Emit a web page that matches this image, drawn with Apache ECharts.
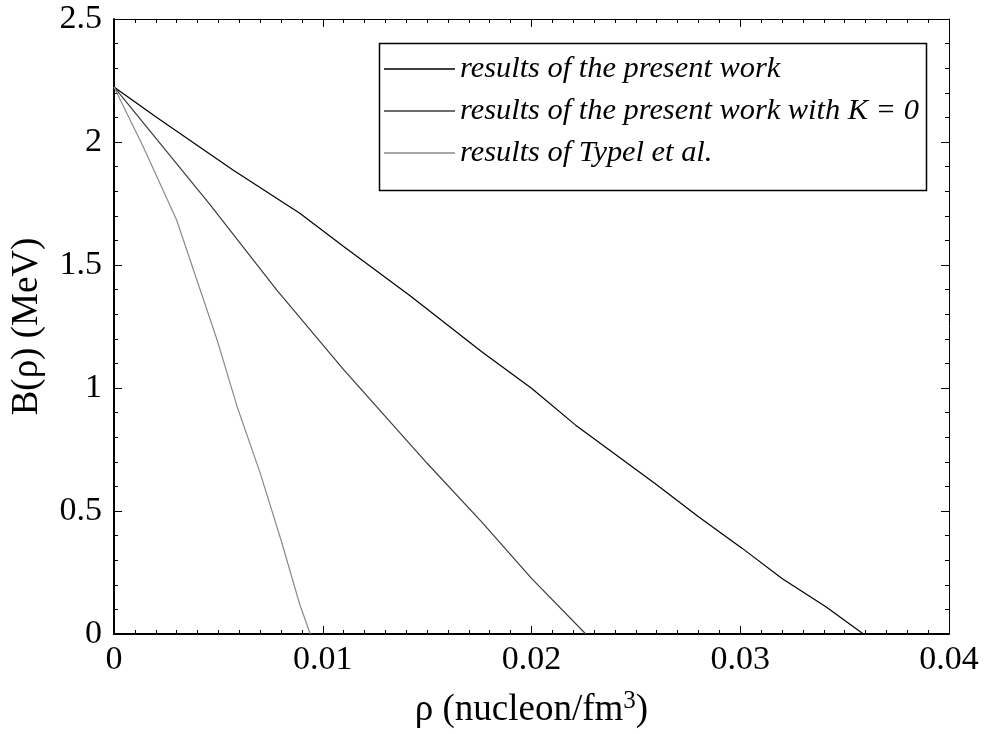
<!DOCTYPE html>
<html>
<head>
<meta charset="utf-8">
<script src="https://cdn.jsdelivr.net/npm/echarts@6/dist/echarts.min.js"></script>
<style>
  html, body { margin: 0; padding: 0; background: #fff; }
  #chart { width: 984px; height: 734px; }
</style>
</head>
<body>
<div id="chart"></div>
<script>
// Deuteron binding energy B(rho) versus nucleon density rho
const seriesNames = [
  'results of the present work',
  'results of the present work with K = 0',
  'results of Typel et al.'
];

// [rho (nucleon/fm^3), B (MeV)]
const presentWork = [
  [0, 2.224], [0.002, 2.103], [0.0057, 1.886], [0.0089, 1.71], [0.011, 1.575],
  [0.0142, 1.374], [0.0176, 1.148], [0.02, 0.999], [0.0221, 0.85], [0.0259, 0.613],
  [0.028, 0.477], [0.0301, 0.348], [0.032, 0.226], [0.0341, 0.111], [0.0359, 0]
];
const presentWorkK0 = [
  [0, 2.224], [0.0046, 1.745], [0.0078, 1.398], [0.011, 1.075], [0.015, 0.694],
  [0.0176, 0.457], [0.02, 0.226], [0.0226, 0]
];
const typel = [
  [0, 2.224], [0.0014, 1.981], [0.003, 1.683], [0.00494, 1.195], [0.0059, 0.924],
  [0.007, 0.655], [0.008, 0.382], [0.0089, 0.12], [0.0094, 0]
];

const xTicks = { min: 0, max: 0.04, interval: 0.01 };
const yTicks = { min: 0, max: 2.5, interval: 0.5 };

const FONT = '"Liberation Serif", "Times New Roman", serif';
const lineColors = ['#000000', '#3c3c3c', '#8a8a8a'];

const chart = echarts.init(document.getElementById('chart'), null, { renderer: 'canvas' });

function frameAxis(base, extra) {
  return Object.assign({
    type: 'value',
    splitLine: { show: false },
    axisTick: { show: true, inside: true, length: 8, lineStyle: { color: '#000', width: 1 } },
    minorTick: { show: true, length: 4, lineStyle: { color: '#000', width: 1 } }
  }, base, extra);
}

chart.setOption({
  backgroundColor: '#ffffff',
  animation: false,
  grid: { left: 114, right: 35, top: 19, bottom: 100, containLabel: false },
  legend: {
    orient: 'vertical',
    left: 384,
    top: 53,
    padding: 0,
    icon: 'rect',
    itemWidth: 71,
    itemHeight: 1.4,
    itemGap: 10,
    data: seriesNames,
    textStyle: {
      fontFamily: FONT, fontStyle: 'italic', fontSize: 30.4, color: '#000', lineHeight: 32
    }
  },
  graphic: [{
    type: 'rect',
    left: 377, top: 41,
    shape: { width: 547, height: 147 },
    style: { fill: 'none', stroke: '#000', lineWidth: 1.5 },
    z: 100
  }],
  xAxis: [
    frameAxis(xTicks, {
      position: 'bottom',
      name: '{a|ρ (nucleon/fm}{s|3}{a|)}',
      nameLocation: 'middle',
      nameGap: 55,
      nameTextStyle: {
        rich: {
          a: { fontFamily: FONT, fontSize: 37, color: '#000' },
          s: { fontFamily: FONT, fontSize: 25, color: '#000', padding: [0, 0, 18, 0] }
        }
      },
      minorTick: { show: true, splitNumber: 10, length: 4, lineStyle: { color: '#000', width: 1 } },
      axisLine: { show: true, onZero: false, lineStyle: { color: '#000', width: 2 } },
      axisLabel: {
        fontFamily: FONT, fontSize: 34, color: '#000', margin: 9,
        formatter: v => (v === 0 ? '0' : String(+v.toFixed(2)))
      }
    }),
    frameAxis(xTicks, {
      position: 'top',
      minorTick: { show: true, splitNumber: 10, length: 4, lineStyle: { color: '#000', width: 1 } },
      axisLine: { show: true, onZero: false, lineStyle: { color: '#000', width: 1 } },
      axisLabel: { show: false }
    })
  ],
  yAxis: [
    frameAxis(yTicks, {
      position: 'left',
      name: 'B(ρ) (MeV)',
      nameLocation: 'middle',
      nameGap: 68,
      nameRotate: 90,
      nameTextStyle: { fontFamily: FONT, fontSize: 37, color: '#000' },
      minorTick: { show: true, splitNumber: 5, length: 4, lineStyle: { color: '#000', width: 1 } },
      axisLine: { show: true, onZero: false, lineStyle: { color: '#000', width: 2 } },
      axisLabel: {
        fontFamily: FONT, fontSize: 34, color: '#000', margin: 12,
        formatter: v => String(+v.toFixed(1))
      }
    }),
    frameAxis(yTicks, {
      position: 'right',
      minorTick: { show: true, splitNumber: 5, length: 4, lineStyle: { color: '#000', width: 1 } },
      axisLine: { show: true, onZero: false, lineStyle: { color: '#000', width: 1 } },
      axisLabel: { show: false }
    })
  ],
  series: [
    { name: seriesNames[0], data: presentWork, color: lineColors[0] },
    { name: seriesNames[1], data: presentWorkK0, color: lineColors[1] },
    { name: seriesNames[2], data: typel, color: lineColors[2] }
  ].map(s => Object.assign({
    type: 'line',
    xAxisIndex: 0,
    yAxisIndex: 0,
    symbol: 'none',
    smooth: false,
    lineStyle: { width: 1.2, color: s.color },
    itemStyle: { color: s.color }
  }, s))
});
</script>
</body>
</html>
